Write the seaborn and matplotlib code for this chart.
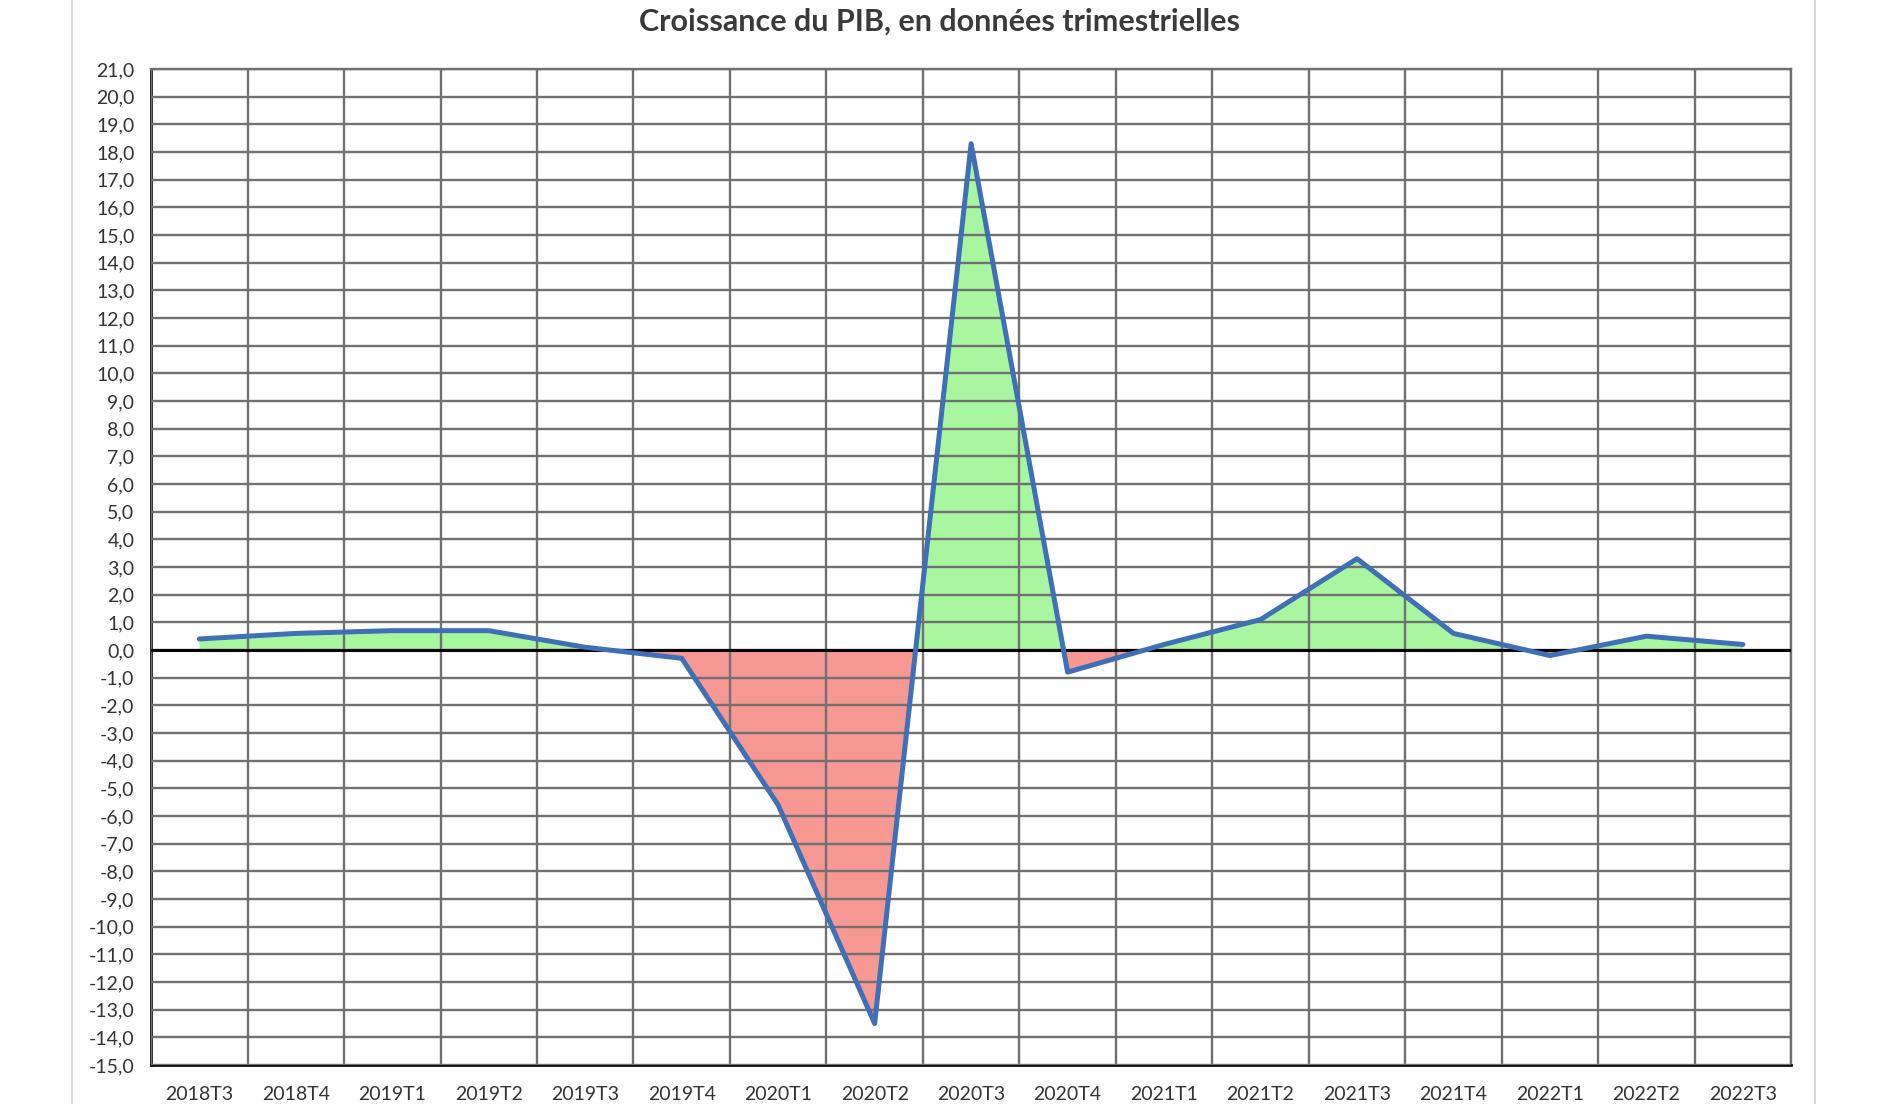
import numpy as np
import pandas as pd
import matplotlib
matplotlib.use("Agg")
import matplotlib.pyplot as plt
import seaborn as sns
from matplotlib.lines import Line2D

# Données (croissance trimestrielle du PIB, %)
trimestres = ["2018T3", "2018T4", "2019T1", "2019T2", "2019T3", "2019T4",
              "2020T1", "2020T2", "2020T3", "2020T4", "2021T1", "2021T2",
              "2021T3", "2021T4", "2022T1", "2022T2", "2022T3"]
croissance = [0.4, 0.6, 0.7, 0.7, 0.1, -0.3,
              -5.6, -13.5, 18.3, -0.8, 0.2, 1.1,
              3.3, 0.6, -0.2, 0.5, 0.2]
y_ticks = list(range(-15, 22))

df = pd.DataFrame({"pos": np.arange(len(trimestres)), "val": croissance})

sns.set_style("white")
plt.rcParams["font.family"] = ["Lato", "DejaVu Sans"]

fig = plt.figure(figsize=(18.91, 11.04), dpi=100)
ax = fig.add_axes([0.0799, 0.0353, 0.8673, 0.9022])

x = df["pos"].to_numpy(dtype=float)
y = df["val"].to_numpy(dtype=float)

# zones colorées
ax.fill_between(x, y, 0, where=y >= 0, interpolate=True,
                color="#a8f7a0", linewidth=0, zorder=1)
ax.fill_between(x, y, 0, where=y <= 0, interpolate=True,
                color="#f79893", linewidth=0, zorder=1)

sns.lineplot(data=df, x="pos", y="val", ax=ax, color="#3f6fb6",
             linewidth=3.6, zorder=4)
ax.axhline(0, color="black", linewidth=2.2, zorder=3)

# axes
ax.set_xlim(-0.5, len(trimestres) - 0.5)
ax.set_ylim(-15, 21)
ax.set_yticks(y_ticks)
ax.set_yticklabels([f"{v:.1f}".replace(".", ",") for v in y_ticks])
ax.set_xticks(x)
ax.set_xticklabels(trimestres)
ax.set_xticks(np.arange(-0.5, len(trimestres)), minor=True)
ax.set_xlabel("")
ax.set_ylabel("")

ax.set_axisbelow(False)
ax.grid(False)
ax.yaxis.grid(True, which="major", color="#707070", linewidth=1.7, zorder=2.5)
ax.xaxis.grid(True, which="minor", color="#707070", linewidth=1.7, zorder=2.5)
ax.tick_params(axis="both", which="both", length=0)
ax.tick_params(axis="y", labelsize=14, labelcolor="#333333", pad=12)
ax.tick_params(axis="x", labelsize=14, labelcolor="#333333", pad=15)

for side in ["top", "right"]:
    ax.spines[side].set_color("#707070")
    ax.spines[side].set_linewidth(1.7)
for side in ["left", "bottom"]:
    ax.spines[side].set_color("#111111")
    ax.spines[side].set_linewidth(2.0)

fig.suptitle("Croissance du PIB, en données trimestrielles", x=0.497, y=0.993,
             fontsize=22, fontweight="bold", color="#3a3a3a", va="top")

# bordure de la zone de graphique
for xf in [72 / 1891, 1815 / 1891]:
    fig.add_artist(Line2D([xf, xf], [0, 1], transform=fig.transFigure,
                          color="#d9d9d9", linewidth=1.5))

fig.savefig("out.png", dpi=100)
